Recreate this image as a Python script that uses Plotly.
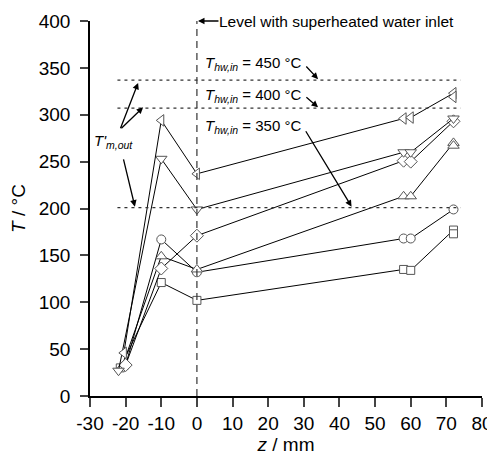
import plotly.graph_objects as go

# ---- data ----
sq_z = [-21.5, -10, 0, 58, 60, 72, 72]
sq_T = [30, 121, 102, 135, 134, 177, 173]
ci_z = [-20, -10, 0, 58, 60, 72]
ci_T = [33, 167, 132, 168, 168, 199]
tu_z = [-21, -10, 0, 58, 60, 72, 72]
tu_T = [31, 149, 135, 213, 213, 270, 267]
di_z = [-20, -10, 0, 58, 60, 72]
di_T = [33, 136, 171, 251, 250, 293]
td_z = [-22, -10, 0, 58, 60, 72]
td_T = [27, 253, 199, 260, 260, 296]
tl_z = [-20.5, -10, 0, 58, 60, 72, 72]
tl_T = [46, 294, 237, 296, 297, 323, 319]

tm_levels = [337, 307, 201]
x_ticks = [-30, -20, -10, 0, 10, 20, 30, 40, 50, 60, 70, 80]
x_ticktext = ["-30", "-20", "-10", "0", "10", "20", "30", "40", "50", "60", "70", "80"]
y_ticks = [0, 50, 100, 150, 200, 250, 300, 350, 400]

FONT = "Liberation Sans, Arial, sans-serif"

series = [
    (sq_z, sq_T, "square", 8),
    (ci_z, ci_T, "circle", 9),
    (tu_z, tu_T, "triangle-up", 10),
    (di_z, di_T, "diamond", 10),
    (td_z, td_T, "triangle-down", 10),
    (tl_z, tl_T, "triangle-left", 10),
]

fig = go.Figure()
for z, T, sym, sz in series:
    fig.add_trace(go.Scatter(
        x=z, y=T, mode="lines+markers",
        line=dict(color="black", width=1),
        marker=dict(symbol=sym, size=sz, color="white",
                    line=dict(color="#555555", width=1)),
        showlegend=False, cliponaxis=False))

shapes = []
shapes.append(dict(type="line", xref="x", yref="y", x0=0, x1=0, y0=0, y1=400,
                   line=dict(color="#333333", width=1.2, dash="7px,5px")))
for lv in tm_levels:
    shapes.append(dict(type="line", xref="x", yref="y", x0=-22.3, x1=74, y0=lv, y1=lv,
                       line=dict(color="#333333", width=1.2, dash="3px,4px")))

ann = []
def arrow(tx, ty, hx, hy):
    ann.append(dict(x=hx, y=hy, ax=tx, ay=ty, xref="x", yref="y", axref="x", ayref="y",
                    text="", showarrow=True, arrowhead=2, arrowsize=1, arrowwidth=1.3,
                    arrowcolor="black", standoff=0, startstandoff=0))

arrow(-21.6, 284, -16.5, 334)
arrow(-21.6, 284, -15.1, 308)
arrow(-20.7, 254, -17.4, 202)
arrow(30.3, 353, 34, 338)
arrow(30.3, 320, 34, 308)
arrow(30.3, 284, 43.4, 202)

# level arrow (at the plot top, use paper coordinates)
ann.append(dict(x=0.3, y=1.0, xref="x", yref="paper", ax=22, ay=0, axref="pixel", ayref="pixel",
                text="", showarrow=True, arrowhead=2, arrowsize=1, arrowwidth=1.3,
                arrowcolor="black", standoff=0, startstandoff=0))
ann.append(dict(x=5.6, y=1.0, xref="x", yref="paper", xanchor="left", yanchor="middle",
                text="Level with superheated water inlet", showarrow=False,
                font=dict(family=FONT, size=15.5, color="black")))
for txt, yy in [("450", 355), ("400", 321), ("350", 287)]:
    ann.append(dict(x=1.6, y=yy, xref="x", yref="y", xanchor="left", yanchor="middle",
                    text="<i>T</i><sub><i>hw,in</i></sub> = " + txt + " °C", showarrow=False,
                    font=dict(family=FONT, size=15, color="black")))
ann.append(dict(x=-23.5, y=271, xref="x", yref="y", xanchor="center", yanchor="middle",
                text="<i>T'</i><sub><i>m,out</i></sub>", showarrow=False,
                font=dict(family=FONT, size=15, color="black")))

fig.update_layout(
    width=487, height=447,
    margin=dict(l=82, r=13, t=13, b=59, autoexpand=False),
    paper_bgcolor="white", plot_bgcolor="white",
    font=dict(family=FONT, size=19, color="black"),
    shapes=shapes, annotations=ann,
    xaxis=dict(range=[-30, 80], tickvals=x_ticks, ticktext=x_ticktext, ticks="outside",
               ticklen=9, tickwidth=1.5, automargin=False,
               showline=True, linecolor="black", linewidth=1.5, showgrid=False, zeroline=False,
               title=dict(text="<i>z</i> / mm", standoff=8, font=dict(size=19)),
               tickfont=dict(size=19)),
    yaxis=dict(range=[0, 400], tickvals=y_ticks, ticks="outside", ticklen=8, tickwidth=1.5,
               ticklabelstandoff=6, automargin=False,
               showline=True, linecolor="black", linewidth=1.5, showgrid=False, zeroline=False,
               title=dict(text="<i>T</i> / °C", standoff=14, font=dict(size=19)),
               tickfont=dict(size=19)),
)

fig.write_html("out.html")
